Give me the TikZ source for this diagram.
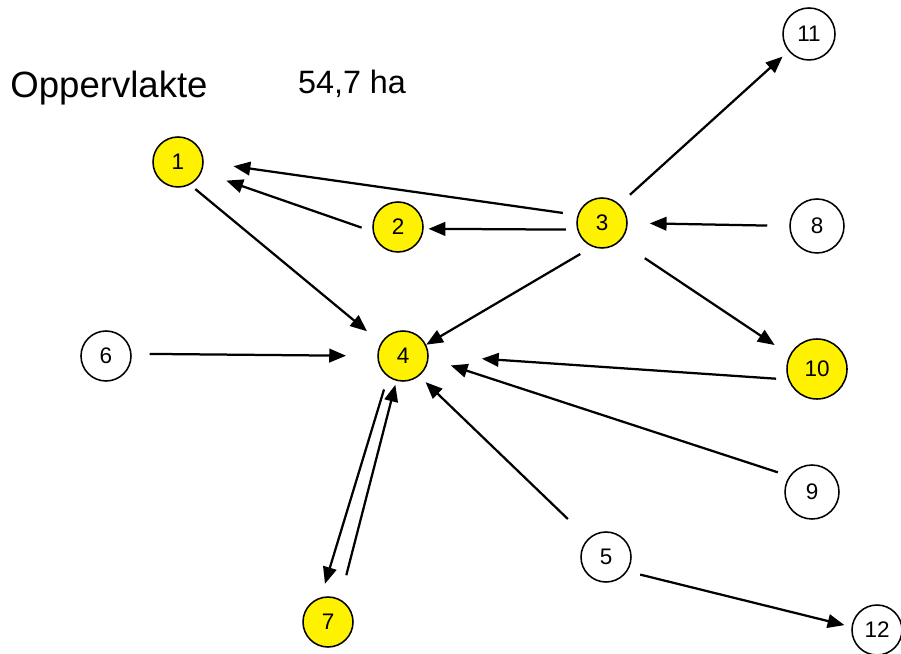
\documentclass[tikz,border=0pt]{standalone}
\usepackage{fontspec}
\setmainfont{Liberation Sans}
\usetikzlibrary{arrows.meta}

\tikzset{
    plot/.style={circle, draw, line width=1.1pt, minimum size=1.25cm, inner sep=0pt, font=\fontsize{16}{18}\selectfont},
    geel/.style={plot, fill=yellow},
    wit/.style={plot, fill=white},
    pijl/.style={line width=1.6pt, -{Triangle[length=0.42cm,width=0.34cm]}}
}

\begin{document}
\begin{tikzpicture}
            \useasboundingbox (0, 0) rectangle (22.525, -16.35);
            % kop
            \node (titel) at (2.725, -2.2) {\fontsize{26}{29}\selectfont Oppervlakte};
            \node (opp) at (8.8, -2.1) {\fontsize{23}{26}\selectfont 54,7 ha};
            % percelen
            \node[geel] (p1) at (4.45, -4.05) {1};
            \node[geel] (p2) at (9.95, -5.675) {2};
            \node[geel] (p3) at (15.05, -5.575) {3};
            \node[geel] (p4) at (10.075, -8.9) {4};
            \node[wit] (p5) at (15.15, -13.925) {5};
            \node[wit] (p6) at (2.65, -8.9) {6};
            \node[geel] (p7) at (8.2, -15.55) {7};
            \node[wit, minimum size=1.35cm] (p8) at (20.425, -5.65) {8};
            \node[wit, minimum size=1.35cm] (p9) at (20.3, -12.3) {9};
            \node[geel, minimum size=1.5cm] (p10) at (20.425, -9.225) {10};
            \node[wit, minimum size=1.3cm] (p11) at (20.225, -0.85) {11};
            \node[wit] (p12) at (21.925, -15.75) {12};
            % afvoer
            \draw[pijl, shorten <=0.37cm, shorten >=0.75cm] (p3.162) -- (p1.0);
            \draw[pijl, shorten <=0.29cm, shorten >=0.65cm] (p2.190) -- (p1.337);
            \draw[pijl, shorten <=0.28cm, shorten >=0.12cm] (p3.195) -- (p2.356);
            \draw[pijl, shorten <=0.17cm, shorten >=0.45cm] (p1.298) -- (p4.149);
            \draw[pijl, shorten <=0.35cm] (p3.248) -- (p4.26);
            \draw[pijl, shorten <=0.35cm, shorten >=0.2cm] (p3.47) -- (p11.220);
            \draw[pijl, shorten <=0.55cm, shorten >=0.55cm] (p8.west) -- (p3.east);
            \draw[pijl, shorten <=0.75cm, shorten >=0.45cm] (p3.314) -- (p10.153);
            \draw[pijl, shorten <=0.45cm, shorten >=0.78cm] (p6.5) -- (p4.180);
            \draw[pijl, shorten <=0.3cm, shorten >=1.33cm] (p10.200) -- (p4.2);
            \draw[pijl, shorten <=0.3cm, shorten >=0.58cm] (p9.145) -- (p4.355);
            \draw[pijl, shorten <=0.7cm, shorten >=0.22cm] (p5.134) -- (p4.309);
            \draw[pijl, shorten <=0.33cm, shorten >=0.35cm] (p4.234) -- (p7.106);
            \draw[pijl, shorten <=0.62cm, shorten >=0.1cm] (p7.62) -- (p4.255);
            \draw[pijl, shorten <=0.33cm, shorten >=0.18cm] (p5.326) -- (p12.173);
        \end{tikzpicture}
\end{document}
